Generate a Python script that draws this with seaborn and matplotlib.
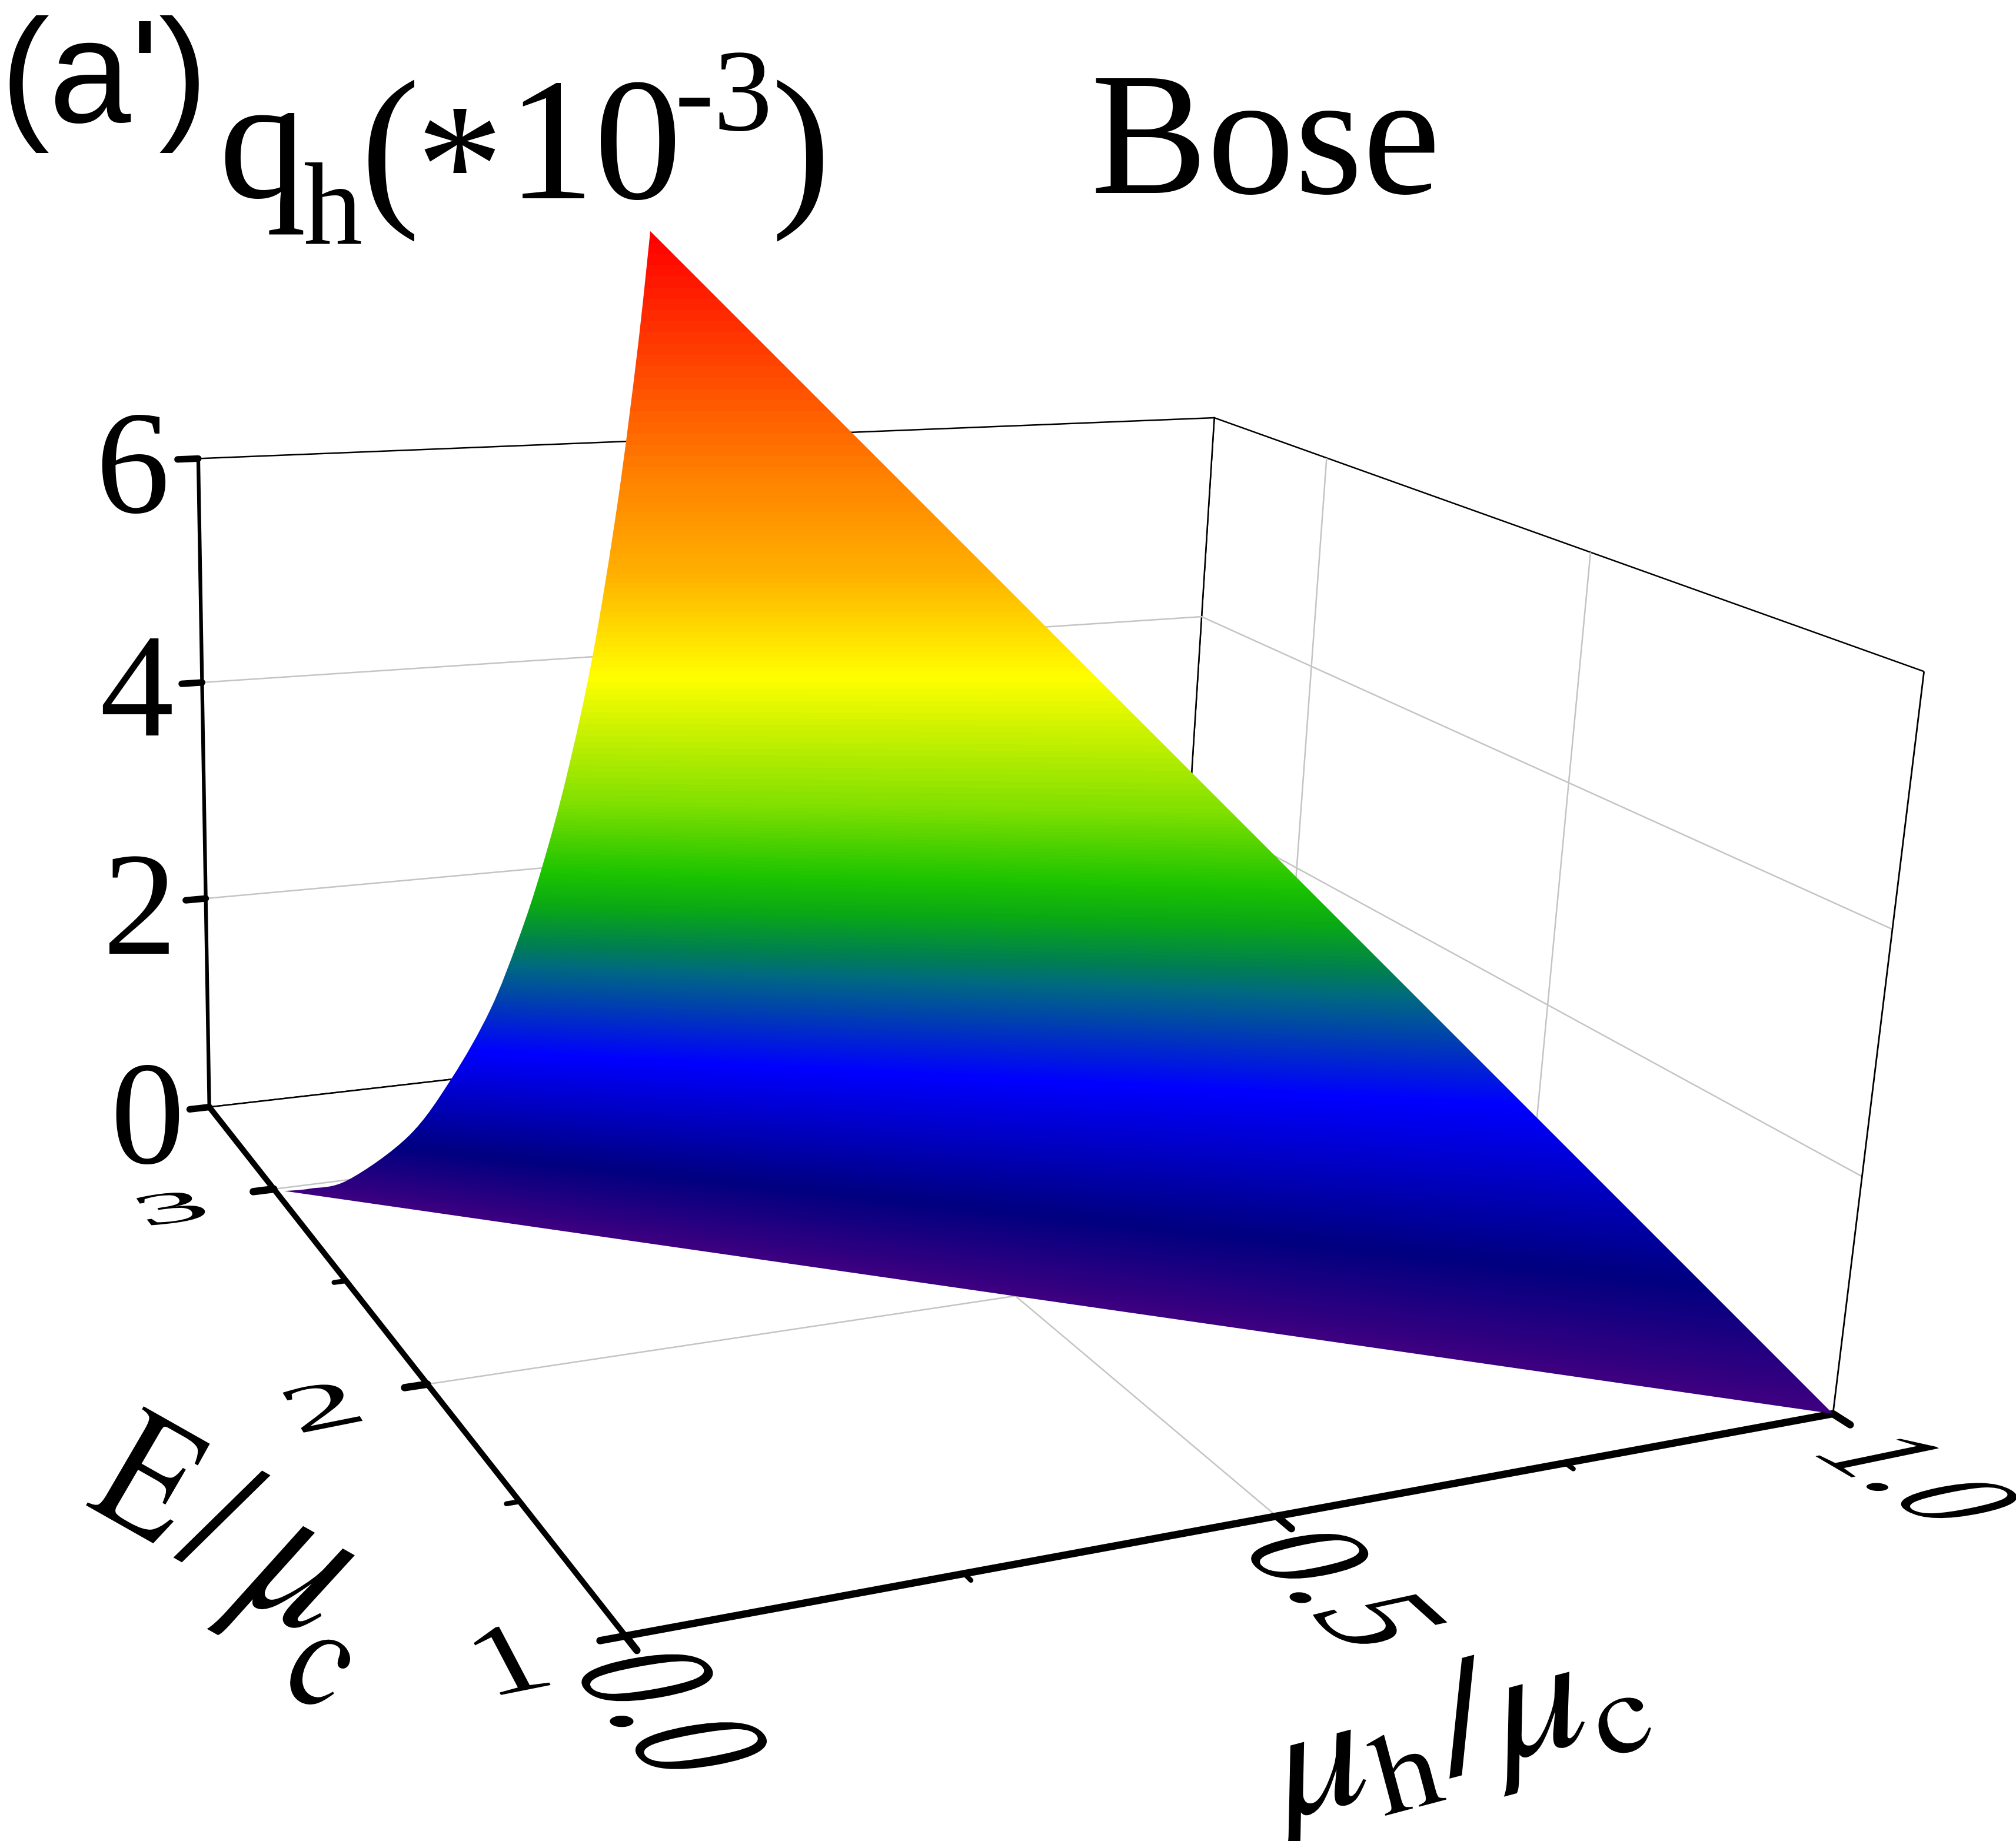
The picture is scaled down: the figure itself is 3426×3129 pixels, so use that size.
import numpy as np
import seaborn as sns
import matplotlib
matplotlib.use('agg')
import matplotlib.pyplot as plt
from matplotlib.patches import PathPatch
from matplotlib.path import Path
from matplotlib.patheffects import AbstractPathEffect
from matplotlib.transforms import Affine2D, IdentityTransform
from mpl_toolkits.mplot3d import proj3d

# values
mu_range = [0, 1]
E_range = [1, 3.5]
q_range = [0, 6]
mu_major = [0, 0.5, 1]
mu_minor = [0.25, 0.75]
E_major = [1, 2, 3]
E_minor = [1.5, 2.5]
q_major = [0, 2, 4, 6]
mu_labels = ['0.0', '0.5', '1.0']
E_labels = ['1', '2', '3']
q_labels = ['0', '2', '4', '6']

# rim of the surface on the mu=0 wall, then the corner at mu=1
edge_E = [2.922, 2.741, 2.483, 2.109, 1.868, 1.669, 1.530, 1.424, 1.317, 1.211, 1.116, 1.048, 1.006]
edge_q = [0.108, 0.421, 0.912, 1.872, 2.698, 3.507, 4.226, 4.866, 5.627, 6.545, 7.631, 8.617, 9.366]
corner = (1, 1, 0)

W, H = 3426, 3129
# camera fitted to the box corners
ELEV, AZIM, ROLL, FOCAL = 17.3029, -116.5278, -2.6684, 0.3731
BOX = (1, 1.0635, 0.5938)
SCALE, TX, TY = 17168.27, 1657.17, 1550.95
VIEW = 0.12

sns.set_theme(style='white')
plt.rcParams['font.family'] = ['Liberation Serif', 'DejaVu Sans']
plt.rcParams['mathtext.fontset'] = 'stix'

fig = plt.figure(figsize=(W / 100, H / 100), dpi=100, facecolor='white')
ax = fig.add_subplot(projection='3d', computed_zorder=False)
ax.set_zorder(1)
ax.set_xlim(*mu_range, view_margin=0)
ax.set_ylim(*E_range, view_margin=0)
ax.set_zlim(*q_range, view_margin=0)
ax.view_init(ELEV, AZIM, ROLL)
ax.set_proj_type('persp', focal_length=FOCAL)
ax.set_box_aspect(BOX)

ax.viewLim.intervalx = (-VIEW, VIEW)
ax.viewLim.intervaly = (-VIEW, VIEW)
ax.set_position([(TX - SCALE * VIEW) / W, (H - TY - SCALE * VIEW) / H,
                 2 * SCALE * VIEW / W, 2 * SCALE * VIEW / H])

ax.set_xticks([0.5])
ax.set_yticks([2, 3])
ax.set_zticks([2, 4])
ax.set_xticklabels([])
ax.set_yticklabels([])
ax.set_zticklabels([])
ax.grid(True)
for axis in (ax.xaxis, ax.yaxis, ax.zaxis):
    axis.set_pane_color((1, 1, 1, 1))
    axis.pane.set_edgecolor('black')
    axis.pane.set_linewidth(1.8)
    axis.line.set_color((0, 0, 0, 0))
    axis._axinfo['grid'].update(color='#c4c4c4', linewidth=1.8)
    axis._axinfo['tick'].update(inward_factor=0, outward_factor=0, linewidth={True: 0, False: 0})

# axes and ticks
ax.plot([0, 1], [1, 1], [0, 0], color='black', lw=9, solid_capstyle='butt', clip_on=False)
ax.plot([0, 0], [1, 3.5], [0, 0], color='black', lw=7, solid_capstyle='butt', clip_on=False)
ax.plot([0, 0], [3.5, 3.5], [0, 6], color='black', lw=4.5, solid_capstyle='butt', clip_on=False)
ax.plot([1, 1], [1, 1], [0, 6], color='black', lw=2, solid_capstyle='butt', clip_on=False)
for m in mu_major:
    ax.plot([m, m], [1, 0.95], [0, 0], color='black', lw=9, solid_capstyle='round', clip_on=False)
for m in mu_minor:
    ax.plot([m, m], [1, 0.975], [0, 0], color='black', lw=6, solid_capstyle='round', clip_on=False)
for e in E_major:
    ax.plot([0, -0.018], [e, e], [0, 0], color='black', lw=9, solid_capstyle='round', clip_on=False)
for e in E_minor:
    ax.plot([0, -0.01], [e, e], [0, 0], color='black', lw=6, solid_capstyle='round', clip_on=False)
for q in q_major:
    ax.plot([0, -0.018], [3.5, 3.5], [q, q], color='black', lw=8, solid_capstyle='round', clip_on=False)

# the surface: rim projected by the 3d axes, filled with the height colours
rim_mu = np.r_[np.zeros(len(edge_E)), corner[0]]
rim_E = np.r_[edge_E, corner[1]]
rim_q = np.r_[edge_q, corner[2]]
ax.apply_aspect()
u, v, _ = proj3d.proj_transform(rim_mu, rim_E, rim_q, ax.get_proj())
rim_px = ax.transData.transform(np.c_[u, v])

# colour stops: screen height of each band at x=1000, and how far the band leans
band_y = [393, 800, 971, 1149, 1365, 1483, 1541, 1607, 1645, 1707, 1798, 1985, 2098]
band_colors = ['#ff0000', '#ff8000', '#ffb000', '#ffff00', '#80e000', '#1cc400', '#0aa915',
               '#008050', '#006a80', '#0040b0', '#0000ff', '#000080', '#3d0080']
lean_y = [393, 1150, 1500, 1800, 1985, 2098]
lean = [0, 0, 0.02, 0.052, 0.105, 0.1426]
cmap = sns.blend_palette(band_colors, n_colors=256, as_cmap=True)

band_t = np.linspace(0, 1, len(band_y))
level_y = np.linspace(393, 2098, 600)
level_t = np.interp(level_y, band_y, band_t)
level_s = np.interp(level_y, lean_y, lean)
xs = np.arange(0, W, 2)
ys = np.arange(0, H, 1)
img = np.column_stack([np.interp(ys, level_y + level_s * (x - 1000), level_t) for x in xs])

over = fig.add_axes([0, 0, 1, 1], zorder=2)
over.set_xlim(0, W)
over.set_ylim(H, 0)
over.axis('off')
im = over.imshow(img, cmap=cmap, vmin=0, vmax=1, extent=(0, W, H, 0), aspect='auto',
                 interpolation='bilinear')

# curved rim drawn as bezier pieces through the read points
curve = rim_px[:-1]
verts = [curve[0]]
codes = [Path.MOVETO]
for i in range(len(curve) - 1):
    p0 = curve[max(i - 1, 0)]
    p1 = curve[i]
    p2 = curve[i + 1]
    p3 = curve[min(i + 2, len(curve) - 1)]
    verts += [p1 + (p2 - p0) / 6, p2 - (p3 - p1) / 6, p2]
    codes += [Path.CURVE4] * 3
verts += [rim_px[-1], curve[0]]
codes += [Path.LINETO, Path.CLOSEPOLY]
clip = PathPatch(Path(verts, codes), transform=IdentityTransform(), facecolor='none', edgecolor='none')
over.add_patch(clip)
im.set_clip_path(clip)


class Warp(AbstractPathEffect):
    # lays the glyphs in the plane of the box
    def __init__(self, ux, uy, vx, vy):
        super().__init__()
        self.a = np.array([[ux, vx], [uy, vy]])

    def draw_path(self, renderer, gc, tpath, affine, rgbFace=None):
        m = affine.get_matrix().copy()
        m[:2, :2] = self.a @ m[:2, :2]
        renderer.draw_path(gc, tpath, Affine2D(m), rgbFace)


def warped(x, y, s, size, ux, uy, vx, vy):
    over.text(x, y, s, fontsize=size, ha='left', va='baseline', color='black', clip_on=False,
              path_effects=[Warp(ux, uy, vx, vy)])


warped(966, 2832, mu_labels[0], 144, 0.61, -0.77, 1.58, 0.29)
warped(2098, 2628, mu_labels[1], 144, 0.80, -0.72, 1.34, 0.29)
warped(3070, 2466, mu_labels[2], 144, 0.87, -0.51, 1.30, 0.27)
warped(830, 2885, E_labels[0], 144, 1.2, 0.24, -0.42, 0.80)
warped(505, 2437, E_labels[1], 144, 1.25, 0.25, -0.32, 0.52)
warped(245, 2085, E_labels[2], 72, 2.4, 0.34, -0.46, 0.72)
warped(143, 2558, r'$\mathrm{E}\,/$', 144, 1.06, -0.60, 0.74, 1.27)
warped(398, 2709, r'$\mu$', 180, 1.06, -0.60, 0.74, 1.27)
warped(472, 2868, r'$\mathrm{c}$', 126, 1.06, -0.60, 0.74, 1.27)
warped(2180, 3095, r'$\mu_{\mathrm{h}}/\mu_{\mathrm{c}}$', 144, 1.55, 0.41, -0.36, 1.35)

for lab, x, y in zip(q_labels, [250, 238, 232, 225], [1977, 1621, 1250, 871]):
    over.text(x, y, lab, fontsize=181, ha='center', va='baseline', color='black')

over.text(0, 208, "(a')", fontsize=180, family='Liberation Sans', ha='left', va='baseline', color='black')

# title pieces: text, x, baseline, size
title_parts = [('q', 371, 335, 214), ('h', 515, 415, 144), ('(', 613, 346, 218), ('*', 706, 380, 214),
               ('10', 862, 337, 214), ('-3', 1147, 221, 144), (')', 1310, 346, 218), ('Bose', 1853, 328, 214)]
for s, x, y, size in title_parts:
    over.text(x, y, s, fontsize=size, ha='left', va='baseline', color='black')

fig.savefig('out.png', dpi=100, facecolor='white')
